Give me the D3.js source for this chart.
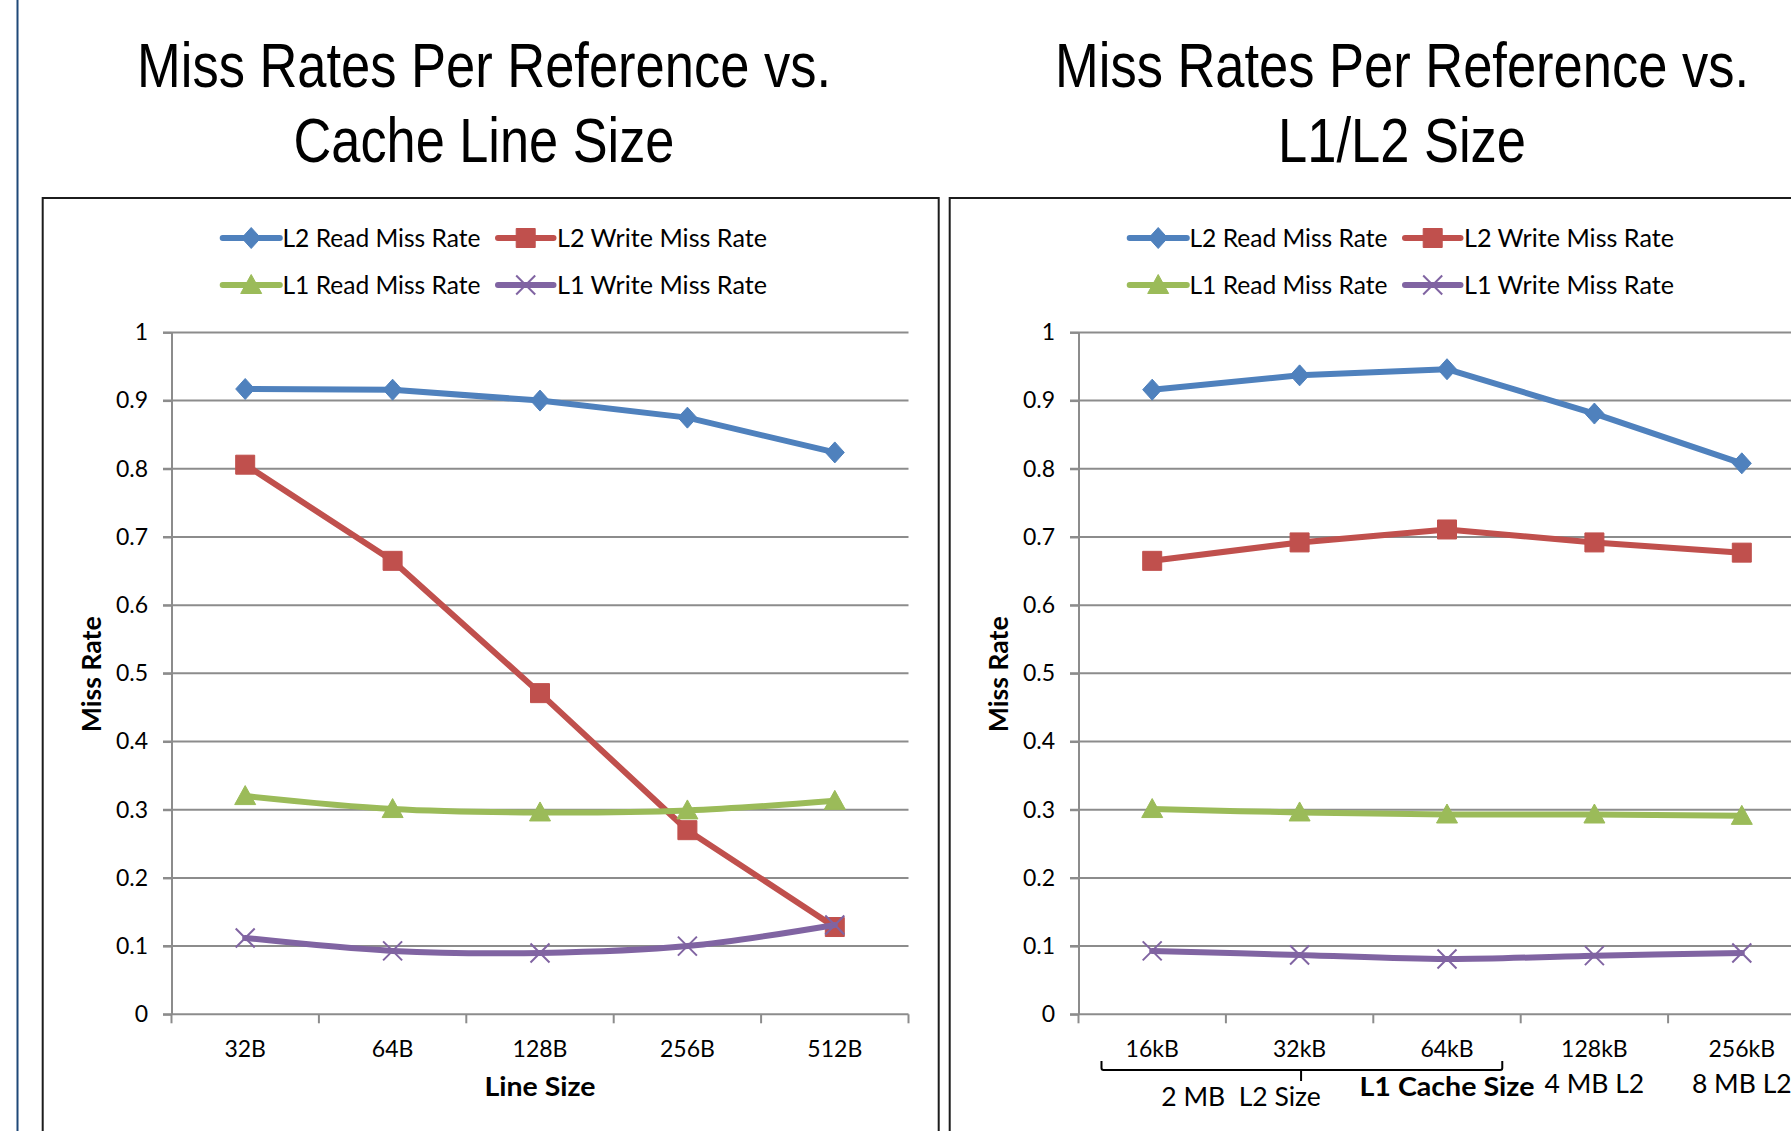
<!DOCTYPE html>
<html><head><meta charset="utf-8">
<script src="https://cdn.jsdelivr.net/npm/d3@7"></script>
<style>
html,body{margin:0;padding:0;background:#fff;}
svg{display:block;}
</style></head><body>
<svg id="c" width="1791" height="1131"></svg>
<script>
// ---------------- data ----------------
const seriesNames = ["L2 Read Miss Rate", "L2 Write Miss Rate", "L1 Read Miss Rate", "L1 Write Miss Rate"];
const yTickValues = [0, 0.1, 0.2, 0.3, 0.4, 0.5, 0.6, 0.7, 0.8, 0.9, 1];
const yTickLabels = ["0", "0.1", "0.2", "0.3", "0.4", "0.5", "0.6", "0.7", "0.8", "0.9", "1"];

// Chart 1: vs. cache line size
const lineSizeCats = ["32B", "64B", "128B", "256B", "512B"];
const lineL2Read  = [0.917, 0.916, 0.900, 0.875, 0.824];
const lineL2Write = [0.806, 0.665, 0.471, 0.270, 0.128];
const lineL1Read  = [0.320, 0.301, 0.296, 0.299, 0.313];
const lineL1Write = [0.112, 0.093, 0.090, 0.100, 0.131];

// Chart 2: vs. L1/L2 size
const l1SizeCats  = ["16kB", "32kB", "64kB", "128kB", "256kB"];
const l2SizeNotes = ["", "", "", "4 MB L2", "8 MB L2"];
const sizeL2Read  = [0.916, 0.937, 0.946, 0.881, 0.808];
const sizeL2Write = [0.665, 0.692, 0.711, 0.692, 0.677];
const sizeL1Read  = [0.301, 0.296, 0.293, 0.293, 0.291];
const sizeL1Write = [0.093, 0.087, 0.081, 0.086, 0.090];

// ---------------- styles ----------------
const colors = ["#4F81BD", "#C0504D", "#9BBB59", "#8064A2"];
const markerKinds = ["diamond", "square", "triangle", "x"];
const smooth = [false, false, true, true];
const tickFont = "Lato, 'Open Sans', sans-serif";
const titleFont = "'Liberation Sans Narrow', 'Arial Narrow', 'Liberation Sans', Arial, sans-serif";

const svg = d3.select("#c");
svg.append("rect").attr("width", 1791).attr("height", 1131).attr("fill", "#fff");

// slide left border
svg.append("line").attr("x1", 17.5).attr("x2", 17.5).attr("y1", 0).attr("y2", 1131)
  .attr("stroke", "#1F4878").attr("stroke-width", 2);

function markerPath(kind) {
  switch (kind) {
    case "diamond": return "M0,-10.5L9.5,0L0,10.5L-9.5,0Z";
    case "square": return "M-9.5,-9.5H9.5V9.5H-9.5Z";
    case "triangle": return "M0,-10.5L10.5,8.5L-10.5,8.5Z";
    default: return "M-9.5,-9.5L9.5,9.5M-9.5,9.5L9.5,-9.5";
  }
}
function drawMarker(sel, kind, color) {
  const p = sel.append("path").attr("d", markerPath(kind));
  if (kind === "x") p.attr("fill", "none").attr("stroke", color).attr("stroke-width", 2);
  else p.attr("fill", color).attr("stroke", color).attr("stroke-width", 1);
  return p;
}

function fitText(t, target) {
  t.attr("textLength", target).attr("lengthAdjust", "spacingAndGlyphs");
}

// horizontally scale a centred text so it spans the target width (keeps a true bounding box)
function scaledText(parent, cx, y, str, size, target, extra) {
  const t = parent.append("text").attr("text-anchor", "middle")
    .attr("font-family", titleFont).attr("font-size", size).attr("fill", "#000").text(str);
  if (extra) extra(t);
  const w = t.node().getComputedTextLength() || target;
  const sx = target / w;
  t.attr("transform", `translate(${cx},${y}) scale(${sx},1)`);
  return t;
}

function drawPanel(cfg) {
  const dx = cfg.dx;
  const g = svg.append("g").attr("transform", `translate(${dx},0)`);

  // title
  cfg.title.forEach((line, i) => {
    scaledText(svg, cfg.titleCx, i === 0 ? 87 : 162, line, 63, cfg.titleW[i]);
  });

  // frame
  g.append("rect").attr("x", 42.7).attr("y", 198).attr("width", 896).attr("height", 1000)
    .attr("fill", "#fff").attr("stroke", "#1c1c1c").attr("stroke-width", 2);

  const plotL = 171.5, plotR = 908.5, plotT = 332.4, plotB = 1014.3;
  const x = d3.scaleBand().domain(cfg.cats).range([plotL, plotR]).padding(0);
  const y = d3.scaleLinear().domain([0, 1]).range([plotB, plotT]);
  const cx = d => x(d) + x.bandwidth() / 2;

  // gridlines
  g.append("g").selectAll("line").data(yTickValues).join("line")
    .attr("x1", plotL - 8.5).attr("x2", plotR)
    .attr("y1", d => y(d)).attr("y2", d => y(d))
    .attr("stroke", "#8c8c8c").attr("stroke-width", 2);

  // y axis
  const yAxis = d3.axisLeft(y).tickValues(yTickValues)
    .tickFormat((d, i) => yTickLabels[i]).tickSize(8.5).tickSizeOuter(0).tickPadding(15);
  const ya = g.append("g").attr("transform", `translate(${plotL},0)`).call(yAxis);
  ya.select(".domain").attr("stroke", "#8c8c8c").attr("stroke-width", 2);
  ya.selectAll(".tick line").attr("stroke", "#8c8c8c").attr("stroke-width", 2);
  ya.selectAll(".tick text").attr("font-family", tickFont).attr("font-size", 23).attr("fill", "#000");

  // x axis boundary ticks
  const bounds = cfg.cats.map(c => x(c)).concat([plotR]);
  g.append("g").selectAll("line").data(bounds).join("line")
    .attr("x1", d => d).attr("x2", d => d).attr("y1", plotB).attr("y2", plotB + 9)
    .attr("stroke", "#8c8c8c").attr("stroke-width", 2);

  // x labels
  const xAxis = d3.axisBottom(x).tickSize(0).tickPadding(0);
  const xa = g.append("g").attr("transform", `translate(0,${plotB})`).call(xAxis);
  xa.select(".domain").remove();
  xa.selectAll(".tick text").attr("font-family", tickFont).attr("font-size", 23)
    .attr("fill", "#000").attr("dy", null).attr("y", 1057 - plotB);

  if (cfg.notes) {
    g.append("g").selectAll("text").data(cfg.cats).join("text")
      .attr("x", d => cx(d)).attr("y", 1093).attr("text-anchor", "middle")
      .attr("font-family", tickFont).attr("font-size", 26.5).attr("fill", "#000")
      .text((d, i) => cfg.notes[i]);
  }

  // axis titles
  const yt = g.append("text").attr("transform", `translate(101,${(plotT + plotB) / 2 + 1}) rotate(-90)`)
    .attr("text-anchor", "middle").attr("font-family", tickFont).attr("font-weight", 700)
    .attr("font-size", 26).attr("fill", "#000").text("Miss Rate");
  fitText(yt, 116);
  const xt = g.append("text").attr("x", (plotL + plotR) / 2).attr("y", 1096)
    .attr("text-anchor", "middle").attr("font-family", tickFont).attr("font-weight", 700)
    .attr("font-size", 26).attr("fill", "#000").text(cfg.xTitle);
  fitText(xt, cfg.xTitleW);

  // bracket annotation
  if (cfg.bracket) {
    const st = x.step();
    const x0 = plotL + 0.156 * st, x1 = plotL + 2.875 * st, xm = plotL + 1.51 * st;
    g.append("path")
      .attr("d", `M${x0},1061 L${x0},1068 Q${x0},1070 ${x0 + 2},1070 L${x1 - 2},1070 Q${x1},1070 ${x1},1068 L${x1},1061 M${xm},1070 L${xm},1081`)
      .attr("fill", "none").attr("stroke", "#000").attr("stroke-width", 2);
    g.append("text").attr("x", xm - 60).attr("y", 1106).attr("text-anchor", "middle")
      .attr("font-family", tickFont).attr("font-size", 26.5).attr("fill", "#000")
      .style("white-space", "pre").text("2 MB  L2 Size");
  }

  // series
  cfg.series.forEach((vals, si) => {
    const pts = vals.map((v, i) => [cx(cfg.cats[i]), y(v)]);
    const line = d3.line().curve(smooth[si] ? d3.curveCatmullRom.alpha(0.5) : d3.curveLinear);
    g.append("path").attr("d", line(pts)).attr("fill", "none")
      .attr("stroke", colors[si]).attr("stroke-width", 6).attr("stroke-linejoin", "round").attr("stroke-linecap", "round");
    pts.forEach(p => {
      drawMarker(g.append("g").attr("transform", `translate(${p[0]},${p[1]})`), markerKinds[si], colors[si]);
    });
  });

  // legend
  const legRows = [238, 285];
  const legCols = [{l0: 222.7, l1: 279.8, m: 251.2, t: 282.5}, {l0: 498, l1: 553.5, m: 525.7, t: 557}];
  seriesNames.forEach((name, i) => {
    const row = legRows[Math.floor(i / 2)], col = legCols[i % 2];
    const lg = g.append("g");
    lg.append("line").attr("x1", col.l0).attr("x2", col.l1).attr("y1", row).attr("y2", row)
      .attr("stroke", colors[i]).attr("stroke-width", 6).attr("stroke-linecap", "round");
    drawMarker(lg.append("g").attr("transform", `translate(${col.m},${row})`), markerKinds[i], colors[i]);
    const t = lg.append("text").attr("x", col.t).attr("y", row + 9).attr("font-family", tickFont)
      .attr("font-size", 25).attr("fill", "#000").text(name);
    fitText(t, i % 2 === 0 ? 198 : 210);
  });
}

drawPanel({
  dx: 0, cats: lineSizeCats,
  series: [lineL2Read, lineL2Write, lineL1Read, lineL1Write],
  title: ["Miss Rates Per Reference vs.", "Cache Line Size"], titleCx: 484, titleW: [694, 381],
  xTitle: "Line Size", xTitleW: 111
});
drawPanel({
  dx: 907, cats: l1SizeCats,
  series: [sizeL2Read, sizeL2Write, sizeL1Read, sizeL1Write],
  title: ["Miss Rates Per Reference vs.", "L1/L2 Size"], titleCx: 1402, titleW: [694, 248],
  xTitle: "L1 Cache Size", xTitleW: 175, notes: l2SizeNotes, bracket: true
});
</script>
</body></html>
